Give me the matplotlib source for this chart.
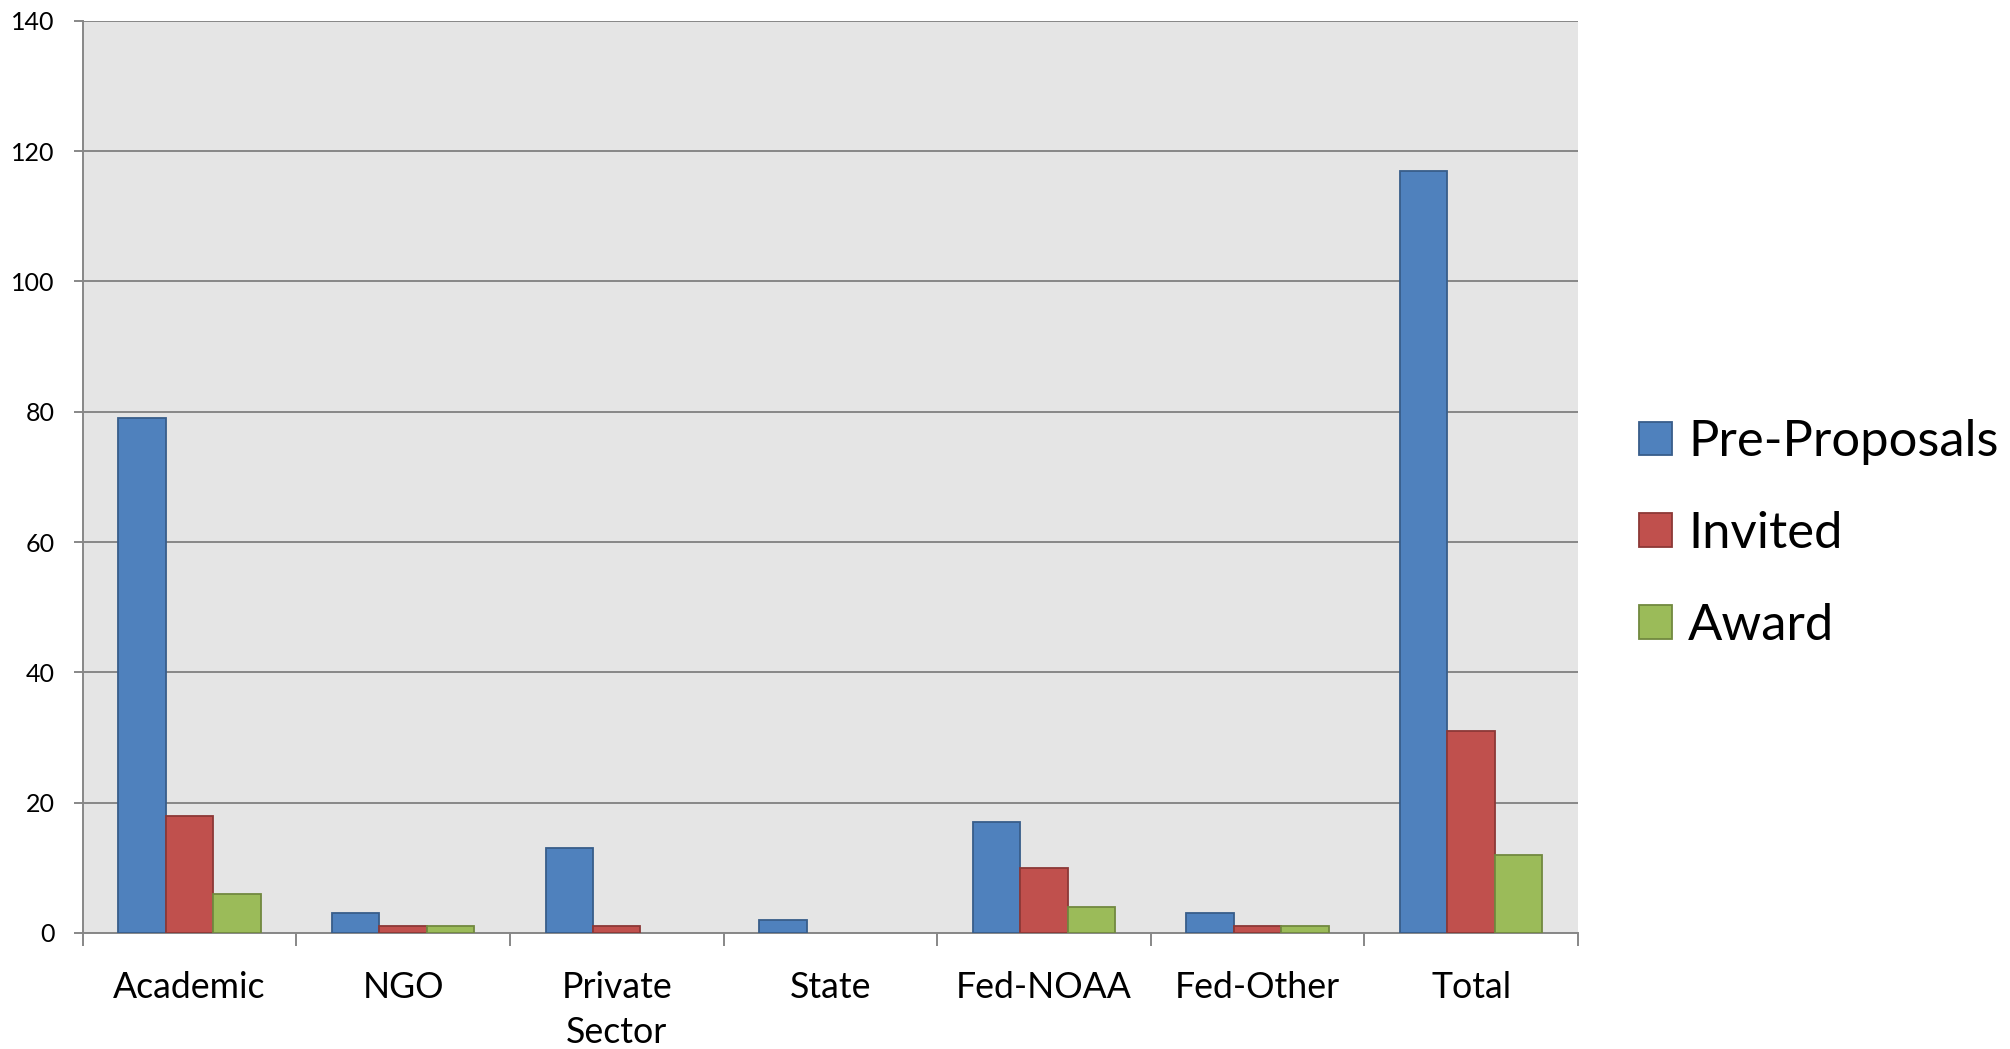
import matplotlib
matplotlib.use("Agg")
import matplotlib.pyplot as plt
import numpy as np
from matplotlib.patches import Patch

categories = ["Academic", "NGO", "Private\nSector", "State", "Fed-NOAA", "Fed-Other", "Total"]
series_names = ["Pre-Proposals", "Invited", "Award"]
pre_proposals = [79, 3, 13, 2, 17, 3, 117]
invited = [18, 1, 1, 0, 10, 1, 31]
award = [6, 1, 0, 0, 4, 1, 12]
y_ticks = [0, 20, 40, 60, 80, 100, 120, 140]

face_colors = ["#4F81BD", "#C0504D", "#9BBB59"]
edge_colors = ["#385D8A", "#8C3836", "#71893F"]

plt.rcParams['font.family'] = ['Lato', 'DejaVu Sans']

W, H = 2010, 1049
fig = plt.figure(figsize=(W / 100, H / 100), dpi=100)
left, right, top, bottom = 82.7, 1578, 20.7, 933
ax = fig.add_axes([left / W, 1 - bottom / H, (right - left) / W, (bottom - top) / H])
ax.set_facecolor("#E5E5E5")

n = len(categories)
x = np.arange(n)
bw = 2 / 9
all_series = [pre_proposals, invited, award]
for i, vals in enumerate(all_series):
    offs = (i - 1) * bw
    bars = ax.bar(x + offs, vals, width=bw, color=face_colors[i],
                  edgecolor=edge_colors[i], linewidth=1.3, zorder=3,
                  label=series_names[i])
    for b, v in zip(bars, vals):
        if v == 0:
            b.set_linewidth(0)

ax.set_xlim(-0.5, n - 0.5)
ax.set_ylim(0, 140)
ax.set_yticks(y_ticks)
ax.set_yticklabels([str(v) for v in y_ticks], fontsize=18)
ax.yaxis.grid(True, color="#878787", linewidth=1.4, zorder=1)
ax.set_axisbelow(True)

ax.set_xticks(x)
ax.set_xticklabels(categories, fontsize=25.7, linespacing=1.48)
ax.set_xticks(np.arange(n + 1) - 0.5, minor=True)
ax.tick_params(axis='x', which='major', length=0, pad=27)
ax.tick_params(axis='x', which='minor', length=9.4, width=1.4, color="#878787", direction='out')
ax.tick_params(axis='y', which='major', length=6.3, width=1.4, color="#878787", direction='out', pad=14)

for s in ["top", "right"]:
    ax.spines[s].set_visible(False)
for s in ["left", "bottom"]:
    ax.spines[s].set_color("#878787")
    ax.spines[s].set_linewidth(1.4)

handles = [Patch(facecolor=face_colors[i], edgecolor=edge_colors[i], linewidth=1.3)
           for i in range(3)]
fig.legend(handles, series_names, loc='center left',
           bbox_to_anchor=(1639 / W, 1 - 534 / H), frameon=False,
           fontsize=36.5, handlelength=0.65, handleheight=0.65,
           handletextpad=0.32, labelspacing=0.9, borderpad=0, borderaxespad=0)

fig.savefig("out.png", dpi=100)
